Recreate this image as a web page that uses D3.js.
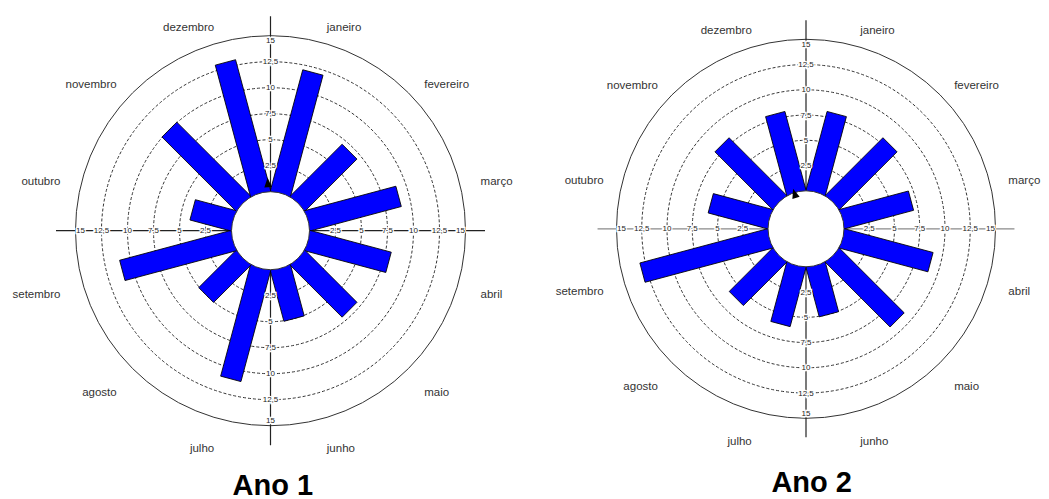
<!DOCTYPE html>
<html>
<head>
<meta charset="utf-8">
<script src="https://cdn.jsdelivr.net/npm/d3@7/dist/d3.min.js"></script>
<style>
  html, body { margin: 0; padding: 0; background: #fff; }
  svg { display: block; font-family: "Liberation Sans", Arial, sans-serif; }
</style>
</head>
<body>
<svg id="chart" width="1049" height="499"></svg>
<script>
// Monthly values, one array per year, months ordered clockwise from the top
const months = ["janeiro", "fevereiro", "março", "abril", "maio", "junho",
                "julho", "agosto", "setembro", "outubro", "novembro", "dezembro"];
const ano1 = [12, 7, 9, 8, 7, 5, 11, 5, 11, 4, 10, 13];
const ano2 = [8, 8, 7, 9, 9, 5, 6, 6, 13, 6, 8, 8];
const ringValues = [2.5, 5, 7.5, 10, 12.5, 15];
const ringLabels = ["2,5", "5", "7,5", "10", "12,5", "15"];
const titles = ["Ano 1", "Ano 2"];
// length of the mean-direction arrow, in value units
const arrowLength = [1.35, 0.4];

const series = [ano1, ano2];

// Panel geometry
const panels = [
  { cx: 270.5, cy: 230.7, r0: 39, rMax: 195, barW: 21,
    labRx: 217.5, labRy: 218, labDy: 7, titleX: 272.8, titleY: 494.5, hAxis: "#222" },
  { cx: 806, cy: 228.8, r0: 38, rMax: 189.5, barW: 20,
    labRx: 209.5, labRy: 213, labDy: 6.7, titleX: 811.7, titleY: 491.5, hAxis: "#8a8a8a" }
];

const svg = d3.select("#chart");

// angular position of each month (degrees clockwise from north)
const angle = d3.scalePoint().domain(months).range([15, 345]);
const rad = d => d * Math.PI / 180;

panels.forEach((p, i) => {
  const values = series[i];
  const r = d3.scaleLinear().domain([0, 15]).range([p.r0, p.rMax]);
  const g = svg.append("g").attr("transform", `translate(${p.cx},${p.cy})`);

  // rings: dashed guides, solid outer boundary
  g.selectAll("circle.ring").data(ringValues).join("circle")
    .attr("class", "ring")
    .attr("r", d => r(d))
    .attr("fill", "none")
    .attr("stroke", "#333")
    .attr("stroke-width", 1)
    .attr("stroke-dasharray", d => d === 15 ? null : "3,2");

  // cross axes
  const L = p.rMax * 1.1;
  g.append("line").attr("x1", -L).attr("x2", L).attr("y1", 0).attr("y2", 0)
    .attr("stroke", p.hAxis).attr("stroke-width", 1.2);
  g.append("line").attr("x1", 0).attr("x2", 0).attr("y1", -L).attr("y2", L)
    .attr("stroke", "#222").attr("stroke-width", 1.2);

  // bars, one per month, rotated to the month's direction
  g.selectAll("rect.bar").data(months).join("rect")
    .attr("class", "bar")
    .attr("x", -p.barW / 2)
    .attr("y", (m, j) => -r(values[j]))
    .attr("width", p.barW)
    .attr("height", (m, j) => r(values[j]))
    .attr("transform", m => `rotate(${angle(m)})`)
    .attr("fill", "#0000ff")
    .attr("stroke", "#000")
    .attr("stroke-width", 0.8);

  // hollow centre
  g.append("circle").attr("r", p.r0)
    .attr("fill", "#fff").attr("stroke", "#333").attr("stroke-width", 1);

  // ring value labels along the four half-axes
  const dirs = [[0, -1], [0, 1], [-1, 0], [1, 0]];
  dirs.forEach(([dx, dy]) => {
    g.selectAll(null).data(ringValues).join("text")
      .attr("x", d => dx * (r(d) - (d === 15 ? 5 : 0)))
      .attr("y", d => dy * (r(d) - (d === 15 ? 5 : 0)))
      .attr("text-anchor", "middle")
      .attr("dominant-baseline", "central")
      .attr("font-size", 8)
      .attr("fill", "#222")
      .attr("stroke", "#fff").attr("stroke-width", 2.5)
      .attr("paint-order", "stroke")
      .text((d, k) => ringLabels[k]);
  });

  // month labels
  g.selectAll("text.month").data(months).join("text")
    .attr("class", "month")
    .attr("x", m => p.labRx * Math.sin(rad(angle(m))))
    .attr("y", m => p.labDy - p.labRy * Math.cos(rad(angle(m))))
    .attr("text-anchor", m => angle(m) < 180 ? "start" : "end")
    .attr("dominant-baseline", "central")
    .attr("font-size", 11.5)
    .attr("fill", "#333")
    .text(m => m);

  // mean direction from the vector sum of the monthly values
  const sx = d3.sum(months, (m, j) => values[j] * Math.sin(rad(angle(m))));
  const sy = d3.sum(months, (m, j) => values[j] * Math.cos(rad(angle(m))));
  const meanDir = Math.atan2(sx, sy) * 180 / Math.PI;
  const tip = r(arrowLength[i]);
  g.append("path")
    .attr("d", `M0,${-tip} L3.8,${-tip + 9.5} L-3.8,${-tip + 9.5} Z`)
    .attr("transform", `rotate(${meanDir})`)
    .attr("fill", "#000");

  // panel title
  svg.append("text")
    .attr("x", p.titleX).attr("y", p.titleY)
    .attr("text-anchor", "middle")
    .attr("font-size", 29)
    .attr("font-weight", "bold")
    .attr("fill", "#000")
    .text(titles[i]);
});
</script>
</body>
</html>
